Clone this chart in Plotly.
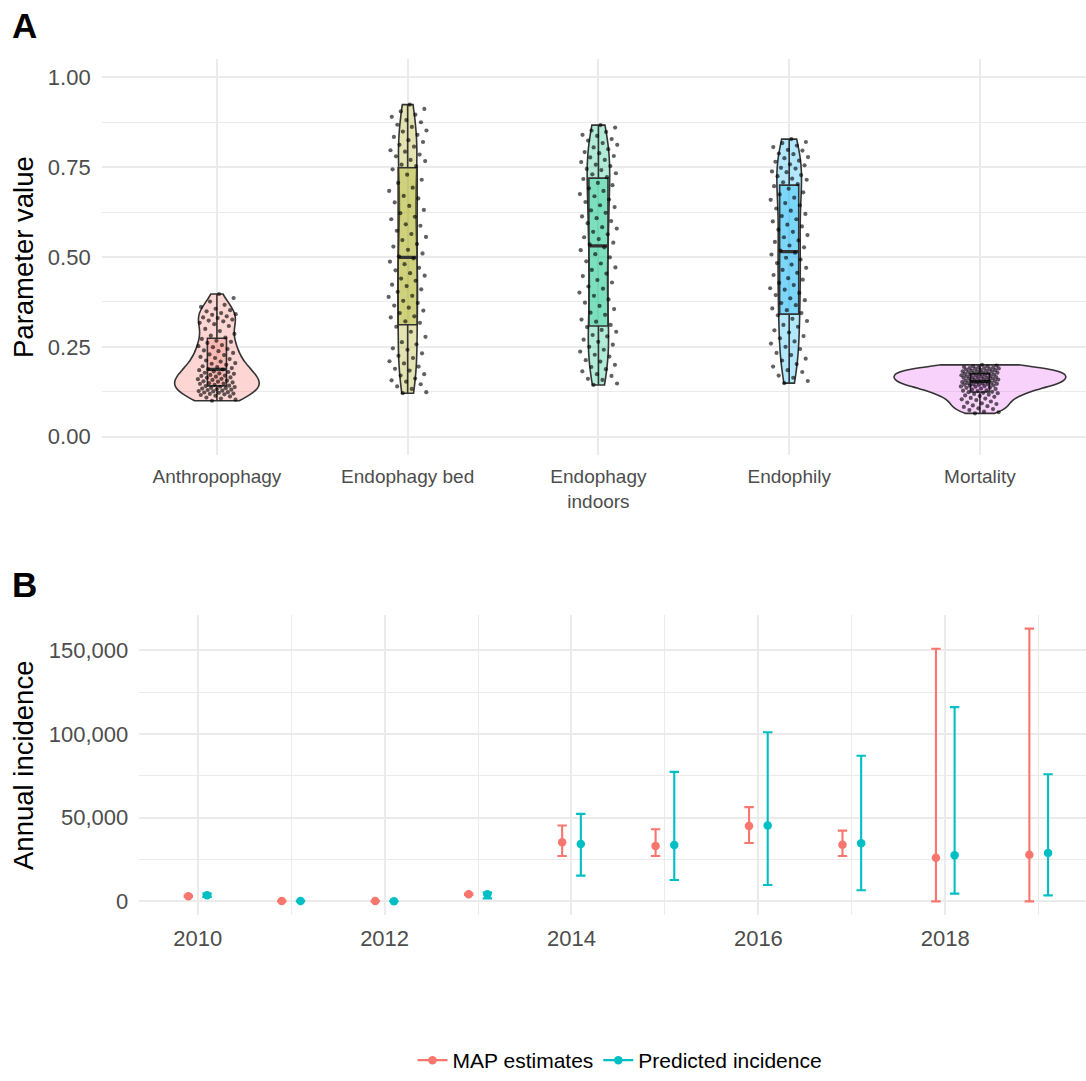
import numpy as np
import plotly.graph_objects as go

# ---------------- Panel A data ----------------
categories = ["Anthropophagy", "Endophagy bed", "Endophagy indoors", "Endophily", "Mortality"]
category_labels = ["Anthropophagy", "Endophagy bed", "Endophagy<br>indoors", "Endophily", "Mortality"]
category_colors = ["#F8766D", "#A3A500", "#00BF7D", "#00B0F6", "#E76BF3"]

anthropophagy = [
    0.100, 0.103, 0.106, 0.109, 0.112, 0.114, 0.116, 0.118, 0.119, 0.120,
    0.122, 0.123, 0.124, 0.126, 0.127, 0.128, 0.130, 0.131, 0.132, 0.134,
    0.135, 0.136, 0.138, 0.139, 0.141,
    0.142, 0.144, 0.147, 0.148, 0.149, 0.151, 0.153, 0.154, 0.156, 0.158,
    0.160, 0.161, 0.164, 0.165, 0.167, 0.169, 0.170, 0.172, 0.175, 0.176,
    0.178, 0.180, 0.182, 0.185, 0.187,
    0.188, 0.191, 0.194, 0.196, 0.200, 0.203, 0.205, 0.209, 0.212, 0.216,
    0.219, 0.222, 0.227, 0.229, 0.233, 0.238, 0.240, 0.244, 0.249, 0.252,
    0.255, 0.261, 0.264, 0.267, 0.272,
    0.276, 0.281, 0.286, 0.294, 0.300, 0.308, 0.313, 0.317, 0.321, 0.323,
    0.326, 0.330, 0.332, 0.335, 0.339, 0.341, 0.344, 0.349, 0.352, 0.356,
    0.361, 0.367, 0.376, 0.386, 0.397,
]

endophagy_bed = [
    0.121, 0.124, 0.133, 0.140, 0.146, 0.153, 0.157, 0.162, 0.170, 0.174,
    0.184, 0.189, 0.195, 0.204, 0.210, 0.219, 0.225, 0.232, 0.242, 0.246,
    0.257, 0.263, 0.278, 0.292, 0.306,
    0.317, 0.321, 0.332, 0.335, 0.344, 0.351, 0.359, 0.365, 0.372, 0.378,
    0.389, 0.392, 0.403, 0.410, 0.419, 0.423, 0.434, 0.440, 0.448, 0.455,
    0.463, 0.470, 0.480, 0.487, 0.496,
    0.502, 0.510, 0.520, 0.529, 0.536, 0.547, 0.556, 0.564, 0.573, 0.587,
    0.591, 0.605, 0.612, 0.622, 0.631, 0.642, 0.652, 0.663, 0.670, 0.684,
    0.693, 0.706, 0.715, 0.729, 0.744,
    0.753, 0.757, 0.767, 0.770, 0.780, 0.785, 0.793, 0.797, 0.807, 0.812,
    0.820, 0.825, 0.834, 0.840, 0.849, 0.852, 0.862, 0.868, 0.875, 0.881,
    0.890, 0.896, 0.905, 0.912, 0.924,
]

endophagy_indoors = [
    0.144, 0.148, 0.158, 0.161, 0.169, 0.174, 0.182, 0.188, 0.194, 0.200,
    0.209, 0.213, 0.223, 0.228, 0.237, 0.242, 0.250, 0.256, 0.264, 0.270,
    0.279, 0.283, 0.292, 0.297, 0.305,
    0.311, 0.320, 0.326, 0.339, 0.345, 0.355, 0.364, 0.373, 0.382, 0.392,
    0.401, 0.412, 0.418, 0.429, 0.436, 0.447, 0.454, 0.464, 0.471, 0.482,
    0.488, 0.499, 0.508, 0.519, 0.527,
    0.535, 0.540, 0.550, 0.555, 0.563, 0.570, 0.579, 0.583, 0.594, 0.600,
    0.608, 0.613, 0.623, 0.630, 0.639, 0.644, 0.653, 0.660, 0.669, 0.675,
    0.684, 0.691, 0.700, 0.706, 0.717,
    0.722, 0.730, 0.733, 0.742, 0.745, 0.753, 0.757, 0.764, 0.770, 0.777,
    0.781, 0.789, 0.792, 0.800, 0.805, 0.812, 0.817, 0.824, 0.828, 0.837,
    0.840, 0.848, 0.852, 0.860, 0.867,
]

endophily = [
    0.149, 0.155, 0.164, 0.170, 0.180, 0.185, 0.195, 0.202, 0.212, 0.217,
    0.227, 0.233, 0.244, 0.250, 0.259, 0.265, 0.274, 0.280, 0.290, 0.296,
    0.306, 0.311, 0.322, 0.328, 0.338,
    0.344, 0.352, 0.357, 0.366, 0.372, 0.380, 0.385, 0.394, 0.400, 0.409,
    0.413, 0.422, 0.428, 0.437, 0.441, 0.450, 0.456, 0.464, 0.470, 0.479,
    0.483, 0.493, 0.498, 0.507, 0.512,
    0.518, 0.527, 0.532, 0.542, 0.546, 0.555, 0.561, 0.570, 0.576, 0.585,
    0.590, 0.599, 0.605, 0.614, 0.620, 0.629, 0.635, 0.644, 0.650, 0.659,
    0.665, 0.674, 0.680, 0.690, 0.697,
    0.703, 0.708, 0.715, 0.718, 0.725, 0.728, 0.736, 0.738, 0.746, 0.748,
    0.755, 0.758, 0.765, 0.768, 0.775, 0.778, 0.786, 0.788, 0.796, 0.798,
    0.806, 0.810, 0.817, 0.820, 0.828,
]

mortality = [
    0.065, 0.068, 0.070, 0.074, 0.077, 0.079, 0.083, 0.085, 0.087, 0.091,
    0.093, 0.095, 0.098, 0.102, 0.104, 0.106, 0.108, 0.111, 0.113, 0.115,
    0.117, 0.119,
    0.121, 0.122, 0.124, 0.125, 0.127, 0.128, 0.129, 0.131, 0.133, 0.134,
    0.136, 0.137, 0.139,
    0.140, 0.141, 0.142, 0.143, 0.144, 0.145, 0.146, 0.146, 0.147, 0.148,
    0.149, 0.150, 0.151, 0.152, 0.153, 0.154, 0.155, 0.155, 0.156, 0.157,
    0.158, 0.159, 0.160, 0.161, 0.162, 0.163, 0.164, 0.164, 0.165, 0.166,
    0.167, 0.168, 0.169, 0.170, 0.171, 0.172, 0.173, 0.173, 0.174, 0.175,
    0.176, 0.177, 0.178, 0.179, 0.180, 0.181, 0.182, 0.182, 0.183, 0.184,
    0.185, 0.186, 0.187, 0.188, 0.189, 0.190, 0.191, 0.191, 0.192, 0.193,
    0.194, 0.195, 0.196, 0.198, 0.200,
]

param_values = [anthropophagy, endophagy_bed, endophagy_indoors, endophily, mortality]
y_ticks_a = [0, 0.25, 0.5, 0.75, 1.0]
y_ticktext_a = ["0.00", "0.25", "0.50", "0.75", "1.00"]

# ---------------- Panel B data ----------------
years = [2010, 2011, 2012, 2013, 2014, 2015, 2016, 2017, 2018, 2019]
map_est = [3100, 200, 150, 4200, 35300, 33100, 45100, 33900, 26000, 27900]
map_lo = [2800, 50, 50, 3800, 27100, 27100, 34900, 27100, 0, 0]
map_hi = [3400, 350, 250, 4600, 45300, 43100, 56300, 42300, 151000, 163000]
pred_inc = [3700, 150, 120, 4300, 34300, 33700, 45300, 34700, 27500, 28900]
pred_lo = [2700, 50, 50, 1800, 15400, 12800, 9800, 6600, 4600, 3600]
pred_hi = [4600, 300, 250, 5200, 52300, 77400, 101100, 87000, 116100, 76000]
series_names = ["MAP estimates", "Predicted incidence"]
series_colors = ["#F8766D", "#00BFC4"]
x_ticks_b = [2010, 2012, 2014, 2016, 2018]
y_ticks_b = [0, 50000, 100000, 150000]
y_ticktext_b = ["0", "50,000", "100,000", "150,000"]

# ---------------- helpers ----------------
W, H = 1086, 1081
FONT = "Liberation Sans, Arial, sans-serif"
GRID = "#EBEBEB"
TICKCOL = "#4D4D4D"
OUTLINE = "#333333"


def yf(px):
    return 1 - px / H


def rgba(hex_color, a):
    h = hex_color.lstrip("#")
    r, g, b = int(h[0:2], 16), int(h[2:4], 16), int(h[4:6], 16)
    return f"rgba({r},{g},{b},{a})"


def bw_nrd0(v):
    v = np.asarray(v, dtype=float)
    sd = v.std(ddof=1)
    iqr = np.subtract(*np.percentile(v, [75, 25]))
    lo = min(sd, iqr / 1.34)
    return 0.9 * lo * len(v) ** -0.2


fig = go.Figure()

# violins (area-scaled via shared scalegroup)
for i, (vals, col) in enumerate(zip(param_values, category_colors)):
    fig.add_trace(go.Violin(
        x0=i, y=vals, name=categories[i], scalegroup="all", scalemode="width",
        spanmode="hard", bandwidth=bw_nrd0(vals), points=False,
        fillcolor=rgba(col, 0.3), line=dict(color=OUTLINE, width=1.6),
        box_visible=False, meanline_visible=False, showlegend=False,
        hoverinfo="skip", xaxis="x", yaxis="y"))

# boxplots
for i, (vals, col) in enumerate(zip(param_values, category_colors)):
    fig.add_trace(go.Box(
        x0=i, y=vals, width=0.1, boxpoints=False, whiskerwidth=0,
        fillcolor=rgba(col, 0.3), line=dict(color=OUTLINE, width=1.6),
        showlegend=False, hoverinfo="skip", xaxis="x", yaxis="y"))

# thicker median lines (computed from data)
mx, my = [], []
for i, vals in enumerate(param_values):
    m = float(np.median(vals))
    mx += [i - 0.05, i + 0.05, None]
    my += [m, m, None]
fig.add_trace(go.Scatter(x=mx, y=my, mode="lines", line=dict(color=OUTLINE, width=3.2),
                         showlegend=False, hoverinfo="skip", xaxis="x", yaxis="y"))

# jittered points (deterministic low-discrepancy horizontal offsets)
golden = (np.sqrt(5) - 1) / 2
px_, py_ = [], []
for i, vals in enumerate(param_values):
    n = len(vals)
    offs = ((np.arange(n) * golden + 0.37) % 1.0 - 0.5) * 0.2
    px_ += list(i + offs)
    py_ += list(vals)
fig.add_trace(go.Scatter(x=px_, y=py_, mode="markers",
                         marker=dict(color="rgba(0,0,0,0.62)", size=4.2, line=dict(width=0)),
                         showlegend=False, hoverinfo="skip", xaxis="x", yaxis="y"))

# ---------------- Panel B traces ----------------
dodge = [-0.1, 0.1]
for k, (est, lo, hi) in enumerate([(map_est, map_lo, map_hi), (pred_inc, pred_lo, pred_hi)]):
    est_a, lo_a, hi_a = np.array(est), np.array(lo), np.array(hi)
    fig.add_trace(go.Scatter(
        x=np.array(years) + dodge[k], y=est_a, mode="markers",
        marker=dict(color=series_colors[k], size=8.5),
        error_y=dict(type="data", symmetric=False, array=hi_a - est_a,
                     arrayminus=est_a - lo_a, color=series_colors[k],
                     thickness=2.1, width=4.7),
        showlegend=False, hoverinfo="skip", xaxis="x2", yaxis="y2"))

# legend entries (point-range glyph)
for k in range(2):
    fig.add_trace(go.Scatter(
        x=[None], y=[None], mode="lines+markers", name=series_names[k],
        line=dict(color=series_colors[k], width=2.1),
        marker=dict(color=series_colors[k], size=8.5),
        showlegend=True, xaxis="x2", yaxis="y2"))

# ---------------- layout ----------------
axA_left = 101.7 / W
axB_left = 139.3 / W

fig.update_layout(
    width=W, height=H, margin=dict(l=0, r=0, t=0, b=0, pad=0, autoexpand=False),
    paper_bgcolor="white", plot_bgcolor="white",
    font=dict(family=FONT, color="black"),
    violinmode="overlay", violingap=0.1, violingroupgap=0,
    boxmode="overlay", boxgap=0, boxgroupgap=0,
    xaxis=dict(domain=[axA_left, 1], range=[-0.604, 4.556], tickvals=list(range(5)),
               ticktext=category_labels, showgrid=True, gridcolor=GRID, gridwidth=2,
               zeroline=False, showline=False, ticks="", ticklabelstandoff=8,
               tickfont=dict(size=19, color=TICKCOL, family=FONT), automargin=False,
               anchor="y"),
    yaxis=dict(domain=[yf(455), yf(59.3)], range=[-0.0509, 1.0501],
               tickvals=y_ticks_a, ticktext=y_ticktext_a, showgrid=True, gridcolor=GRID,
               gridwidth=2, zeroline=False, showline=False, ticks="", ticklabelstandoff=10,
               tickfont=dict(size=22, color=TICKCOL, family=FONT), automargin=False,
               minor=dict(tickvals=[0.125, 0.375, 0.625, 0.875], showgrid=True,
                          gridcolor=GRID, gridwidth=1, ticks=""),
               anchor="x"),
    xaxis2=dict(domain=[axB_left, 1], range=[2009.375, 2019.506], tickvals=x_ticks_b,
                ticktext=[str(t) for t in x_ticks_b], showgrid=True, gridcolor=GRID,
                gridwidth=2, zeroline=False, showline=False, ticks="", ticklabelstandoff=8,
                tickfont=dict(size=22, color=TICKCOL, family=FONT), automargin=False,
                minor=dict(tickvals=[2011, 2013, 2015, 2017, 2019], showgrid=True,
                           gridcolor=GRID, gridwidth=1, ticks=""),
                anchor="y2"),
    yaxis2=dict(domain=[yf(915), yf(615)], range=[-8150, 171150],
                tickvals=y_ticks_b, ticktext=y_ticktext_b, showgrid=True, gridcolor=GRID,
                gridwidth=2, zeroline=False, showline=False, ticks="", ticklabelstandoff=10,
                tickfont=dict(size=22, color=TICKCOL, family=FONT), automargin=False,
                minor=dict(tickvals=[25000, 75000, 125000], showgrid=True,
                           gridcolor=GRID, gridwidth=1, ticks=""),
                anchor="x2"),
    legend=dict(orientation="h", x=620 / W, xanchor="center", y=0.0,
                yanchor="bottom", font=dict(size=21, color="black", family=FONT),
                bgcolor="rgba(0,0,0,0)", itemwidth=30),
    annotations=[
        dict(text="<b>A</b>", x=10 / W, y=yf(26), xref="paper", yref="paper",
             xanchor="left", yanchor="middle", showarrow=False,
             font=dict(size=35, color="black", family=FONT)),
        dict(text="<b>B</b>", x=10 / W, y=yf(584), xref="paper", yref="paper",
             xanchor="left", yanchor="middle", showarrow=False,
             font=dict(size=35, color="black", family=FONT)),
        dict(text="Parameter value", x=23 / W, y=yf(257), xref="paper", yref="paper",
             xanchor="center", yanchor="middle", textangle=-90, showarrow=False,
             font=dict(size=27.5, color="black", family=FONT)),
        dict(text="Annual incidence", x=23 / W, y=yf(766), xref="paper", yref="paper",
             xanchor="center", yanchor="middle", textangle=-90, showarrow=False,
             font=dict(size=27.5, color="black", family=FONT)),
    ],
)

fig.write_html("out.html")
